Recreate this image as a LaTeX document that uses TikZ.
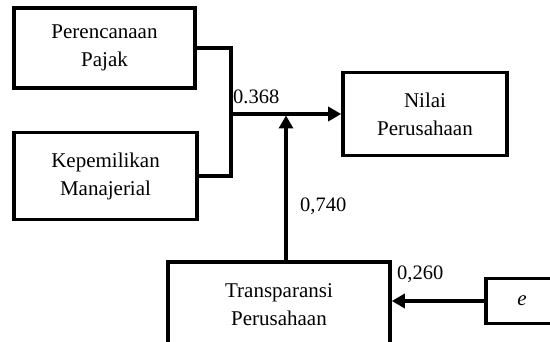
\documentclass[tikz,border=0pt]{standalone}
\usepackage{fontspec}
\setmainfont{Liberation Serif}
\usetikzlibrary{arrows.meta,calc}
\begin{document}
\begin{tikzpicture}[x=1pt,y=-1pt,
  box/.style={draw,line width=3.6pt,align=center,inner sep=0pt,
    font=\fontsize{21}{28}\selectfont},
  conn/.style={line width=3.6pt},
  arr/.style={line width=3.6pt,-{Triangle[length=13pt,width=14pt]}},
  lab/.style={font=\fontsize{20.5}{24}\selectfont,inner sep=0pt}]
\useasboundingbox (0,0) rectangle (550,342);
\clip (0,0) rectangle (550,342);
\node[box,minimum width=181pt,minimum height=80pt] (P) at (104.5,48) {Perencanaan\\Pajak};
\node[box,minimum width=183pt,minimum height=87pt] (K) at (105.5,176) {Kepemilikan\\Manajerial};
\node[box,minimum width=164pt,minimum height=83pt] (N) at (425,114) {Nilai\\Perusahaan};
\node[box,minimum width=222pt,minimum height=86pt] (T) at (279,305) {Transparansi\\Perusahaan};
\node[box,minimum width=72pt,minimum height=45pt] (E) at (522,301) {\itshape e};
\coordinate (J) at (231,114);
\coordinate (U) at (286,115.5);
\draw[conn] (P.east) -| (J |- K.east) -- (K.east);
\draw[arr] (J) -- (N.west);
\draw[arr] (T.north -| U) -- (U);
\draw[arr] (E.west) -- (E.west -| T.east);
\node[lab,anchor=west] (L1) at (233,97) {0.368};
\node[lab,anchor=west] (L2) at (300,206) {0,740};
\node[lab,anchor=west] (L3) at (397,274) {0,260};
\end{tikzpicture}
\end{document}
